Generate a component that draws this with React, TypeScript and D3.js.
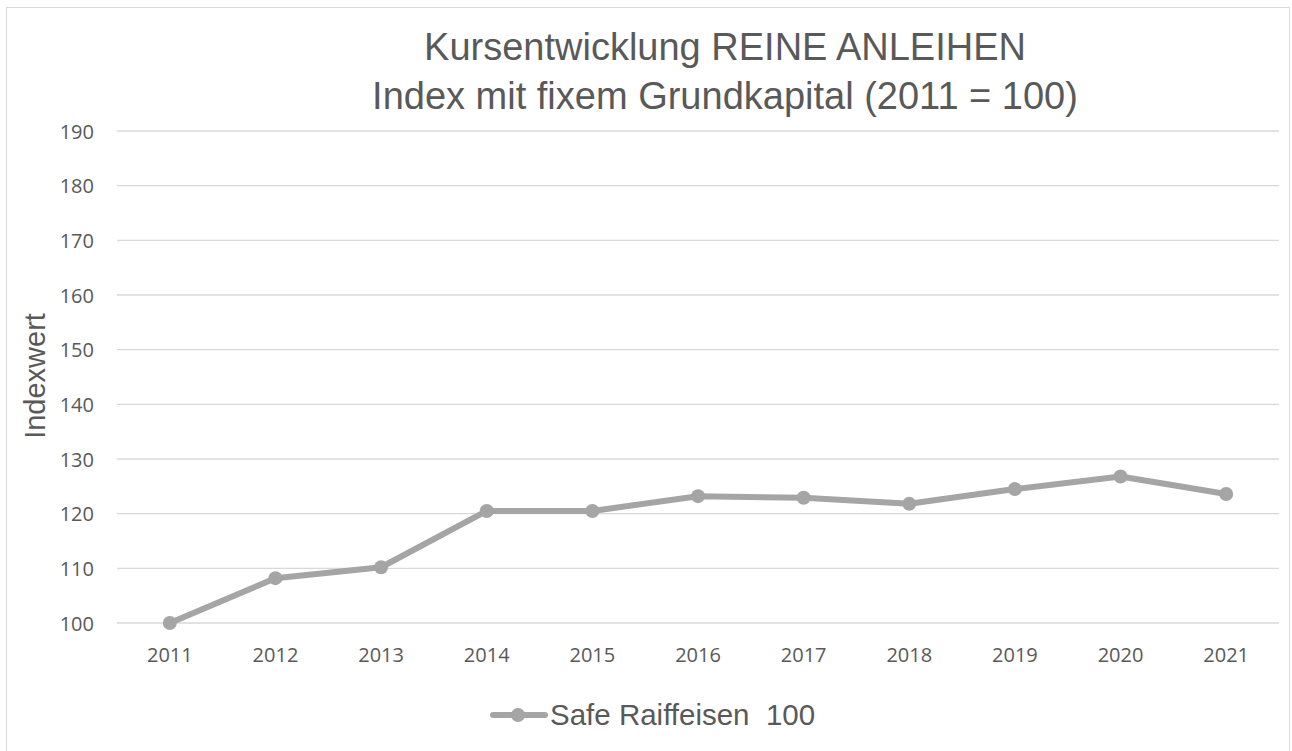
import * as d3 from "d3";
import React, { useEffect, useRef } from 'react'

const years = ['2011', '2012', '2013', '2014', '2015', '2016', '2017', '2018', '2019', '2020', '2021']
const indexValues = [100, 108.2, 110.2, 120.5, 120.5, 123.2, 122.9, 121.8, 124.5, 126.8, 123.6]
const yTicks = [100, 110, 120, 130, 140, 150, 160, 170, 180, 190]
const titleLines = ['Kursentwicklung REINE ANLEIHEN', 'Index mit fixem Grundkapital (2011 = 100)']
const seriesName = 'Safe Raiffeisen  100'

const width = 1292
const height = 751

const drawChart = (el: SVGSVGElement) => {
  const svg = d3.select(el)
  svg.selectAll('*').remove()

  const left = 117
  const right = 1279
  const top = 131
  const bottom = 623
  const lineColor = '#a5a5a5'
  const textColor = '#595959'

  svg.append('rect')
    .attr('x', 6.5).attr('y', 7.5)
    .attr('width', 1283).attr('height', 760)
    .attr('fill', '#fff')
    .attr('stroke', '#d9d9d9')

  const xScale = d3.scaleBand()
    .domain(years)
    .range([left, right])
  const yScale = d3.scaleLinear()
    .domain([100, 190])
    .range([bottom, top])

  // grid
  svg.append('g')
    .selectAll('line')
    .data(yTicks)
    .enter()
    .append('line')
    .attr('x1', left).attr('x2', right)
    .attr('y1', (d) => yScale(d)).attr('y2', (d) => yScale(d))
    .attr('stroke', '#d9d9d9')
    .attr('stroke-width', 1.3)

  const yaxis = d3.axisLeft(yScale).tickValues(yTicks).tickSize(0).tickPadding(0)
  const gy = svg.append('g')
    .attr('transform', 'translate(' + (left - 23) + ',0)')
    .call(yaxis)
  gy.select('.domain').remove()
  gy.selectAll('text')
    .attr('fill', textColor)
    .style('font-family', '"Open Sans", sans-serif')
    .style('font-size', '20px')
    .attr('dy', '0.36em')

  const xaxis = d3.axisBottom(xScale).tickSize(0).tickPadding(0)
  const gx = svg.append('g')
    .attr('transform', 'translate(0,' + (bottom + 39) + ')')
    .call(xaxis)
  gx.select('.domain').remove()
  gx.selectAll('text')
    .attr('fill', textColor)
    .style('font-family', '"Open Sans", sans-serif')
    .style('font-size', '20px')
    .attr('y', 0)
    .attr('dy', 0)

  const cx = (d: string) => (xScale(d) as number) + xScale.bandwidth() / 2

  const line = d3.line<number>()
    .x((_, i) => cx(years[i]))
    .y((d) => yScale(d))

  svg.append('path')
    .attr('d', line(indexValues))
    .attr('fill', 'none')
    .attr('stroke', lineColor)
    .attr('stroke-width', 6)
    .attr('stroke-linejoin', 'round')

  svg.append('g')
    .selectAll('circle')
    .data(indexValues)
    .enter()
    .append('circle')
    .attr('cx', (_, i) => cx(years[i]))
    .attr('cy', (d) => yScale(d))
    .attr('r', 7)
    .attr('fill', lineColor)

  // title
  svg.append('g')
    .selectAll('text')
    .data(titleLines)
    .enter()
    .append('text')
    .attr('x', 725)
    .attr('y', (_, i) => 60 + i * 49)
    .attr('text-anchor', 'middle')
    .attr('fill', textColor)
    .style('font-family', '"Liberation Sans", Arial, sans-serif')
    .style('font-size', '38px')
    .text((d) => d)

  svg.append('text')
    .attr('transform', 'translate(45,376) rotate(-90)')
    .attr('text-anchor', 'middle')
    .attr('fill', textColor)
    .style('font-family', '"Liberation Sans", Arial, sans-serif')
    .style('font-size', '29px')
    .text('Indexwert')

  // legend
  const legend = svg.append('g').attr('transform', 'translate(0,715)')
  legend.append('line')
    .attr('x1', 493).attr('x2', 545)
    .attr('stroke', lineColor)
    .attr('stroke-width', 6)
    .attr('stroke-linecap', 'round')
  legend.append('circle')
    .attr('cx', 518).attr('r', 7)
    .attr('fill', lineColor)
  legend.append('text')
    .attr('x', 550)
    .attr('y', 10)
    .attr('fill', textColor)
    .style('font-family', '"Liberation Sans", Arial, sans-serif')
    .style('font-size', '29.5px')
    .style('white-space', 'pre')
    .text(seriesName)
}

export default function App() {
  const ref = useRef<SVGSVGElement>(null)

  useEffect(() => {
    document.body.style.margin = '0'
    if (ref.current) drawChart(ref.current)
  })

  return (
    <svg ref={ref} width={width} height={height} style={{ display: 'block', background: '#fff' }} />
  )
}
